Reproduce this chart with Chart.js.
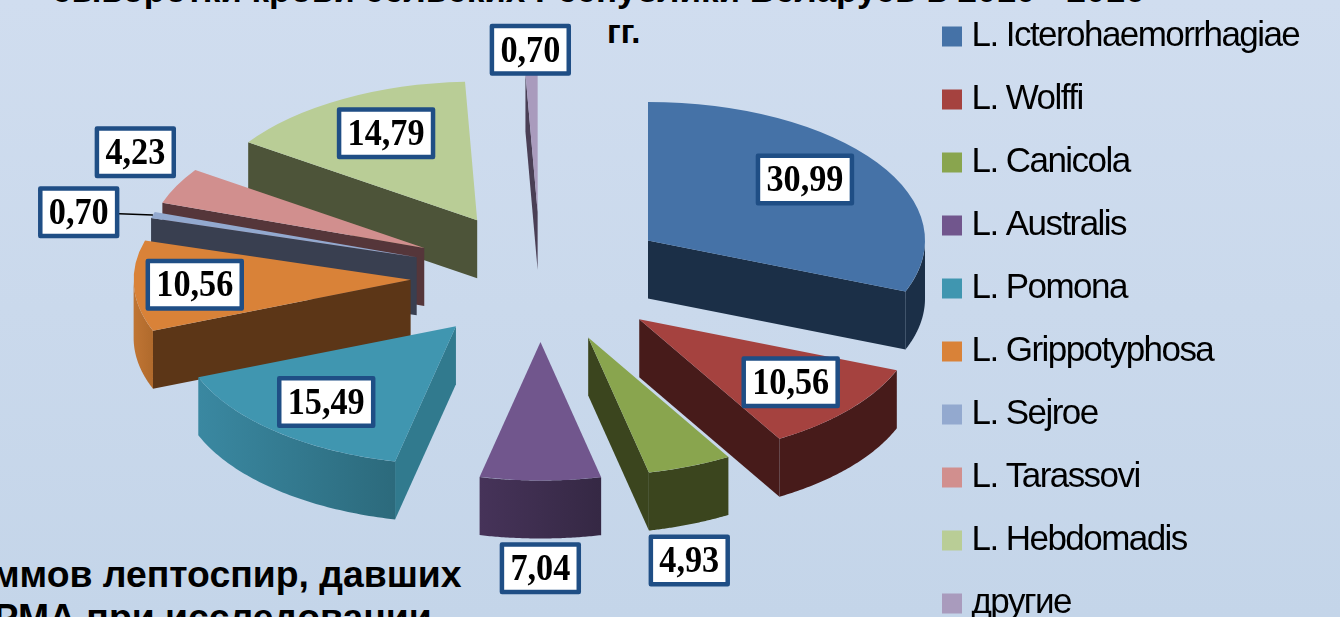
<!DOCTYPE html>
<html>
<head>
<meta charset="utf-8">
<script src="https://cdn.jsdelivr.net/npm/chart.js@4"></script>
<style>
  html, body { margin: 0; height: 100%; overflow: hidden; }
  body { position: relative; width: 1340px; height: 617px; background: linear-gradient(#d0ddef, #c4d5e9); }
  #wrap { position: absolute; left: 0; top: -49px; width: 1340px; height: 738px; }
  .slide-text { position: absolute; font: bold 36px "Liberation Sans", sans-serif; color: #000; white-space: nowrap; }
  .note { transform: scaleX(1.037); transform-origin: right; }
</style>
</head>
<body>
<div class="slide-text" style="left:52px; top:-30px; font-size:35px;">сыворотки крови сельских Республики Беларусь в 2010 - 2016</div>
<div class="slide-text" style="left:607px; top:13px; font-size:33px;">гг.</div>
<div class="slide-text note" style="right:879px; top:554px;">штаммов лептоспир, давших</div>
<div class="slide-text note" style="right:908px; top:597px;">в РМА при исследовании</div>
<div id="wrap"><canvas id="pie"></canvas></div>
<script>
// ==================== DATA ====================
const categories = ["L. Icterohaemorrhagiae", "L. Wolffi", "L. Canicola", "L. Australis", "L. Pomona",
  "L. Grippotyphosa", "L. Sejroe", "L. Tarassovi", "L. Hebdomadis", "другие"];
const shares = [30.99, 10.56, 4.93, 7.04, 15.49, 10.56, 0.70, 4.23, 14.79, 0.70];
const shareLabels = ["30,99", "10,56", "4,93", "7,04", "15,49", "10,56", "0,70", "4,23", "14,79", "0,70"];

// ==================== STYLE ====================
const topColors = ["#4572a7", "#a5423f", "#89a54e", "#71568d", "#4096b0", "#d98238", "#93a9cf", "#d18f8e", "#b9cd96", "#a99bbd"];
const faceColors = ["#1b2f47", "#471b1a", "#3b451e", "#3a2b4c", "#317a8e", "#5c3617", "#393f50", "#55363a", "#4d5439", "#4a3f55"];
const rimLeft = ["#1b2f47", "#471b1a", "#3b451e", "#463359", "#3a88a1", "#c07534", "#393f50", "#55363a", "#4d5439", "#4a3f55"];
const rimRight = ["#1b2f47", "#471b1a", "#3b451e", "#352844", "#2c6a7c", "#b06a2c", "#393f50", "#55363a", "#4d5439", "#4a3f55"];

const pieCenter = { x: 540.5, y: 277 + 49 };  // canvas sits 49px above the page
const pieRadius = 277;
const explode = 130;
const squash = 0.5;
const depth = 58;

// where each label box sits: fraction of the radius from the slice tip, plus a nudge
const labelReach = [0.72, 0.72, 1.25, 1.25, 0.72, 0.78, 1.3, 1.3, 0.72, 1.2];
const labelNudge = [[-8, -5], [0, -2], [-26, 62], [0, 53], [0, 0], [0, 0], [5, 10], [33, -15], [6, 0], [0, 4]];

function tip(arc) {
  const mid = (arc.startAngle + arc.endAngle) / 2;
  return {
    x: pieCenter.x + Math.cos(mid) * explode,
    y: pieCenter.y + Math.sin(mid) * explode * squash
  };
}

function rimPoint(t, angle, drop) {
  return { x: t.x + Math.cos(angle) * pieRadius, y: t.y + Math.sin(angle) * pieRadius * squash + drop };
}

function fillFace(ctx, t, angle, color) {
  const p = rimPoint(t, angle, 0);
  ctx.fillStyle = color;
  ctx.beginPath();
  ctx.moveTo(t.x, t.y);
  ctx.lineTo(p.x, p.y);
  ctx.lineTo(p.x, p.y + depth);
  ctx.lineTo(t.x, t.y + depth);
  ctx.closePath();
  ctx.fill();
}

function fillRim(ctx, t, from, to, leftColor, rightColor) {
  const steps = 60;
  const grad = ctx.createLinearGradient(rimPoint(t, to, 0).x, 0, rimPoint(t, from, 0).x, 0);
  grad.addColorStop(0, leftColor);
  grad.addColorStop(1, rightColor);
  ctx.fillStyle = grad;
  ctx.beginPath();
  for (let i = 0; i <= steps; i++) {
    const p = rimPoint(t, from + (to - from) * i / steps, 0);
    if (i === 0) ctx.moveTo(p.x, p.y); else ctx.lineTo(p.x, p.y);
  }
  for (let i = steps; i >= 0; i--) {
    const p = rimPoint(t, from + (to - from) * i / steps, depth);
    ctx.lineTo(p.x, p.y);
  }
  ctx.closePath();
  ctx.fill();
}

function labelCenter(arc, i, t) {
  const mid = (arc.startAngle + arc.endAngle) / 2;
  const r = pieRadius * labelReach[i];
  return {
    x: t.x + Math.cos(mid) * r + labelNudge[i][0],
    y: t.y + Math.sin(mid) * r * squash + labelNudge[i][1]
  };
}

// ==================== 3D PIE PLUGIN ====================
const tiltedPie = {
  id: "tiltedPie",
  beforeDraw(chart) {
    chart.ctx.letterSpacing = "-1.55px";
  },
  afterLayout(chart) {
    chart.legend.left = 922;
  },
  beforeDatasetDraw(chart, args) {
    const ctx = chart.ctx;
    ctx.letterSpacing = "0px";
    const order = args.meta.data.map((arc, i) => ({ arc, i, t: tip(arc) }))
      .sort((a, b) => a.t.y - b.t.y);

    order.forEach(({ arc, i, t }) => {
      const a = arc.startAngle, b = arc.endAngle;
      // only the walls that face the viewer
      if (-Math.cos(a) > 0) fillFace(ctx, t, a, faceColors[i]);
      if (Math.cos(b) > 0) fillFace(ctx, t, b, faceColors[i]);
      // rim is only visible on the lower half of the ellipse (0..PI on the canvas)
      const from = Math.max(a, 0), to = Math.min(b, Math.PI);
      if (to > from) fillRim(ctx, t, from, to, rimLeft[i], rimRight[i]);

      ctx.save();
      ctx.translate(t.x, t.y);
      ctx.scale(1, squash);
      ctx.translate(-arc.x, -arc.y);
      arc.draw(ctx);
      ctx.restore();
    });
    return false;
  },
  afterDatasetsDraw(chart) {
    const ctx = chart.ctx;
    const arcs = chart.getDatasetMeta(0).data;

    // leader line for the thin Sejroe slice
    const sejroe = arcs[6], sejroeTip = tip(sejroe);
    const rim = rimPoint(sejroeTip, (sejroe.startAngle + sejroe.endAngle) / 2, 0);
    const box = labelCenter(sejroe, 6, sejroeTip);
    ctx.strokeStyle = "#000";
    ctx.lineWidth = 1.5;
    ctx.beginPath();
    ctx.moveTo(rim.x, rim.y);
    ctx.lineTo(box.x, box.y);
    ctx.stroke();

    ctx.font = "bold 38px 'Liberation Serif', serif";
    ctx.textAlign = "center";
    ctx.textBaseline = "middle";
    arcs.forEach((arc, i) => {
      const c = labelCenter(arc, i, tip(arc));
      const textW = ctx.measureText(shareLabels[i]).width * 0.9;
      const w = textW + 17;
      const h = 47.5;
      ctx.fillStyle = "#fff";
      ctx.strokeStyle = "#1f4e85";
      ctx.lineWidth = 4.5;
      ctx.lineJoin = "round";
      ctx.fillRect(c.x - w / 2, c.y - h / 2, w, h);
      ctx.strokeRect(c.x - w / 2, c.y - h / 2, w, h);
      ctx.fillStyle = "#000";
      ctx.fillText(shareLabels[i], c.x, c.y + 2, textW);
    });
  }
};

// ==================== CHART ====================
new Chart(document.getElementById("pie"), {
  type: "pie",
  data: {
    labels: categories,
    datasets: [{
      data: shares,
      backgroundColor: topColors,
      borderWidth: 0
    }]
  },
  options: {
    responsive: true,
    maintainAspectRatio: false,
    animation: false,
    radius: pieRadius,
    plugins: {
      tooltip: { enabled: false },
      legend: {
        position: "right",
        labels: {
          color: "#000",
          font: { family: "'Liberation Sans', sans-serif", size: 35 },
          usePointStyle: true,
          pointStyle: "rect",
          boxWidth: 4,
          boxHeight: 20,
          padding: 28
        }
      }
    }
  },
  plugins: [tiltedPie]
});
</script>
</body>
</html>
